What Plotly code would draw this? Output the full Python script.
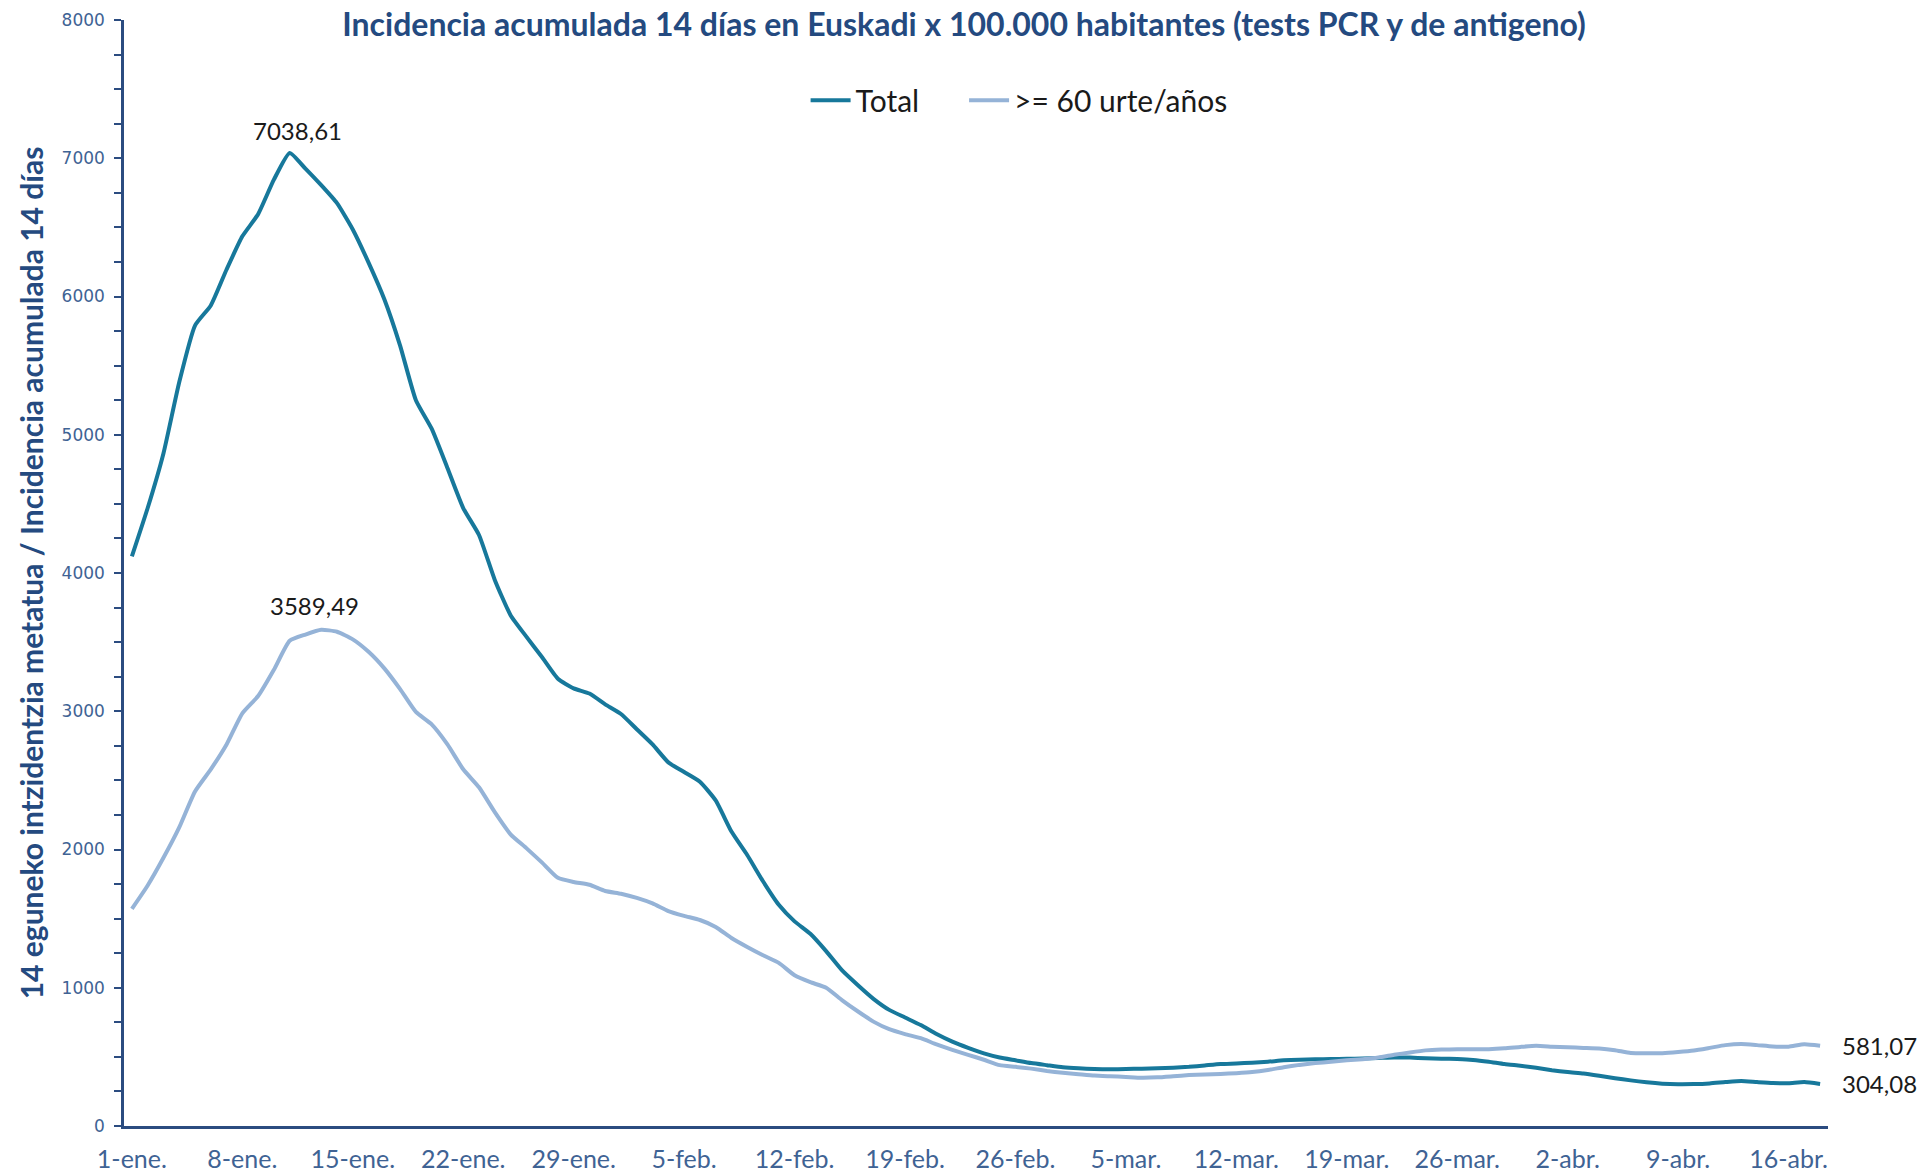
import pandas as pd
import plotly.graph_objects as go

# ---- data ----
start_date = "2022-01-01"

total = [4120, 4470, 4865, 5380, 5790, 5935, 6195, 6435, 6595, 6845,
         7038.61, 6925, 6805, 6675, 6485, 6245, 5980, 5645, 5250, 5044,
         4760, 4470, 4275, 3950, 3695, 3540, 3390, 3235, 3165, 3128,
         3050, 2980, 2870, 2760, 2630, 2560, 2490, 2355, 2130, 1960,
         1770, 1600, 1480, 1390, 1265, 1127, 1020, 920, 840, 785,
         730, 665, 610, 565, 525, 495, 475, 455, 440, 425,
         417, 412, 410, 412, 415, 418, 422, 428, 438, 448,
         452, 458, 465, 475, 480, 482, 484, 486, 488, 492,
         496, 495, 490, 487, 484, 478, 465, 448, 436, 422,
         404, 390, 380, 364, 346, 330, 316, 306, 302, 303,
         308, 318, 326, 318, 311, 310, 318, 304.08]

over60 = [1571, 1740, 1940, 2160, 2420, 2580, 2760, 2985, 3110, 3300,
          3510, 3555, 3589.49, 3575, 3520, 3430, 3310, 3160, 2995, 2905,
          2760, 2580, 2450, 2270, 2110, 2010, 1905, 1795, 1765, 1745,
          1700, 1680, 1650, 1610, 1555, 1520, 1490, 1440, 1360, 1295,
          1235, 1180, 1090, 1040, 1000, 911, 830, 755, 700, 665,
          635, 590, 551, 515, 479, 440, 428, 415, 398, 385,
          375, 365, 360, 355, 349, 352, 360, 368, 372, 376,
          382, 390, 405, 425, 442, 455, 465, 475, 483, 495,
          515, 532, 547, 553, 555, 555, 556, 562, 572, 580,
          574, 569, 565, 561, 548, 528, 526, 527, 535, 546,
          565, 585, 593, 585, 575, 574, 592, 581.07]

tick_labels = ["1-ene.", "8-ene.", "15-ene.", "22-ene.", "29-ene.", "5-feb.",
               "12-feb.", "19-feb.", "26-feb.", "5-mar.", "12-mar.", "19-mar.",
               "26-mar.", "2-abr.", "9-abr.", "16-abr."]

series_names = ["Total", ">= 60 urte/años"]
title_text = "Incidencia acumulada 14 días en Euskadi x 100.000 habitantes (tests PCR y de antigeno)"
ytitle_text = "14 eguneko intzidentzia metatua / Incidencia acumulada 14 días"

# ---- derived ----
dates = pd.date_range(start_date, periods=len(total), freq="D")
tick_dates = pd.date_range(start_date, periods=len(tick_labels), freq="7D")

C_TOTAL = "#17789B"
C_OLD = "#95B3D7"
C_AXIS = "#2B4C80"
C_TICK = "#3F6394"
C_TITLE = "#244A80"


def fmt(v):
    return f"{v:.2f}".replace(".", ",")


fig = go.Figure()
fig.add_trace(go.Scatter(x=dates, y=total, mode="lines", name=series_names[0], legend="legend",
                         line=dict(color=C_TOTAL, width=4, shape="spline", smoothing=0.5)))
fig.add_trace(go.Scatter(x=dates, y=over60, mode="lines", name=series_names[1], legend="legend2",
                         line=dict(color=C_OLD, width=4, shape="spline", smoothing=0.5)))

i_pk_t = max(range(len(total)), key=lambda i: total[i])
i_pk_o = max(range(len(over60)), key=lambda i: over60[i])
lab_font = dict(family="Lato", size=24, color="#1a1a1a")
annotations = [
    dict(x=dates[i_pk_t], y=total[i_pk_t], xref="x", yref="y", text=fmt(total[i_pk_t]),
         showarrow=False, yanchor="bottom", yshift=6, xshift=8, font=lab_font),
    dict(x=dates[i_pk_o], y=over60[i_pk_o], xref="x", yref="y", text=fmt(over60[i_pk_o]),
         showarrow=False, yanchor="bottom", yshift=8, xshift=-7, font=lab_font),
    dict(x=dates[-1], y=over60[-1], xref="x", yref="y", text=fmt(over60[-1]),
         showarrow=False, xanchor="left", yanchor="middle", xshift=20, font=lab_font),
    dict(x=dates[-1], y=total[-1], xref="x", yref="y", text=fmt(total[-1]),
         showarrow=False, xanchor="left", yanchor="middle", xshift=20, font=lab_font),
]

leg_common = dict(orientation="h", xanchor="left", y=0.9274, yanchor="middle",
                  font=dict(family="Lato", size=30, color="#1a1a1a"),
                  bgcolor="rgba(0,0,0,0)", itemwidth=40)

half = pd.Timedelta(hours=12)
fig.update_layout(
    width=1922, height=1173,
    margin=dict(l=124, r=94, t=20, b=47),
    paper_bgcolor="white", plot_bgcolor="white",
    showlegend=True,
    title=dict(text=f"<b>{title_text}</b>", xref="container", x=0.5016, xanchor="center",
               yref="container", y=1 - 25 / 1173, yanchor="middle",
               font=dict(family="Lato", size=32, color=C_TITLE)),
    legend=dict(x=0.400, **leg_common),
    legend2=dict(x=0.493, **leg_common),
    annotations=annotations,
    xaxis=dict(type="date", range=[dates[0] - half, dates[-1] + half], automargin=False,
               tickvals=tick_dates, ticktext=tick_labels, ticks="",
               showgrid=False, zeroline=False, showline=True, linecolor=C_AXIS, linewidth=2.5,
               tickfont=dict(family="Lato", size=25, color=C_TICK), ticklabelstandoff=9),
    yaxis=dict(range=[0, 8000], dtick=1000, tick0=0, tickformat="d", automargin=False,
               ticks="outside", ticklen=7, tickwidth=2, tickcolor=C_AXIS,
               minor=dict(dtick=250, ticks="outside", ticklen=7, tickwidth=2, tickcolor=C_AXIS, showgrid=False),
               showgrid=False, zeroline=False, showline=True, linecolor=C_AXIS, linewidth=2.5,
               tickfont=dict(family="DejaVu Sans", size=17, color=C_TICK), ticklabelstandoff=6,
               title=dict(text=f"<b>{ytitle_text}</b>", standoff=10,
                          font=dict(family="Lato", size=30, color=C_TITLE))),
    hovermode=False,
)

fig.write_html("out.html", config={"displayModeBar": False},
               post_script="document.body.style.margin='0';document.body.style.overflow='hidden';")
